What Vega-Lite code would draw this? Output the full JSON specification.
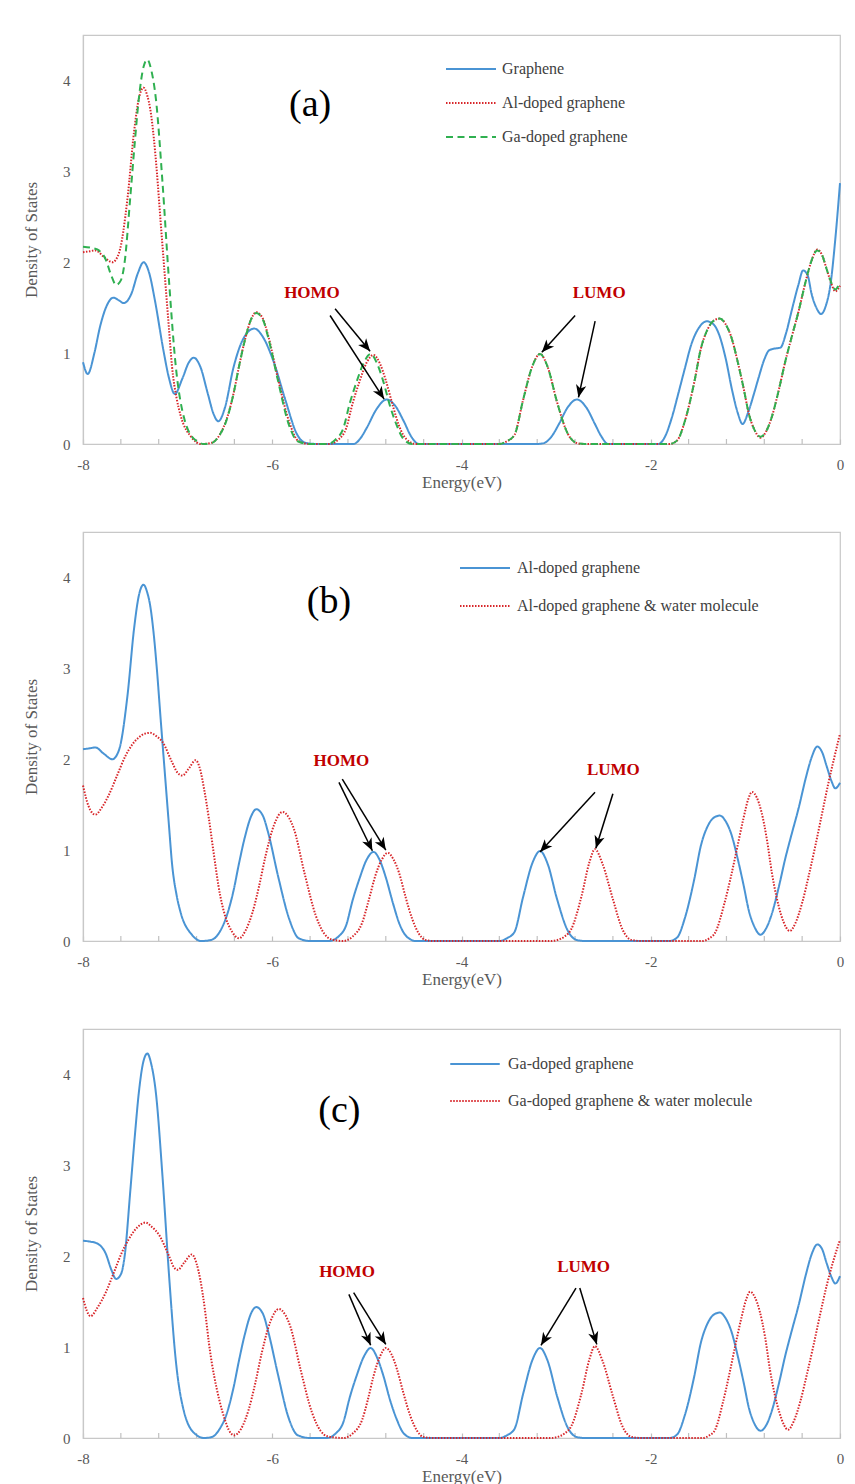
{
  "$schema": "https://vega.github.io/schema/vega-lite/v6.json",
  "background": "white",
  "padding": {"left": 21, "top": 34, "right": 10, "bottom": 5},
  "bounds": "flush",
  "spacing": 88,
  "config": {
    "font": "Liberation Serif",
    "view": {"stroke": "#c8c8c8", "strokeWidth": 1.2},
    "axis": {"domainColor": "#c8c8c8", "domainWidth": 1.2, "tickColor": "#c0c0c0", "tickWidth": 1.2, "labelColor": "#595959", "labelFont": "Liberation Serif", "labelFontSize": 15, "titleFont": "Liberation Serif", "titleFontSize": 17, "titleFontWeight": "normal", "titleColor": "#595959", "grid": false},
    "legend": {"labelFont": "Liberation Serif", "labelFontSize": 16, "labelColor": "#404040", "symbolType": "stroke", "symbolStrokeWidth": 2, "labelLimit": 500}
  },
  "datasets": {
    "minor": [{"energy":-7.6},{"energy":-7.2},{"energy":-6.8},{"energy":-6.4},{"energy":-5.6},{"energy":-5.2},{"energy":-4.8},{"energy":-4.4},{"energy":-3.6},{"energy":-3.2},{"energy":-2.8},{"energy":-2.4},{"energy":-1.6},{"energy":-1.2},{"energy":-0.8},{"energy":-0.4}],
    "dos": [
      {"series":"Graphene","energy":-8,"dos":0.9},{"series":"Graphene","energy":-7.95,"dos":0.77},{"series":"Graphene","energy":-7.88,"dos":1.0},{"series":"Graphene","energy":-7.82,"dos":1.29},{"series":"Graphene","energy":-7.75,"dos":1.52},{"series":"Graphene","energy":-7.68,"dos":1.61},{"series":"Graphene","energy":-7.62,"dos":1.58},{"series":"Graphene","energy":-7.57,"dos":1.55},{"series":"Graphene","energy":-7.49,"dos":1.65},{"series":"Graphene","energy":-7.42,"dos":1.88},{"series":"Graphene","energy":-7.36,"dos":2.0},{"series":"Graphene","energy":-7.3,"dos":1.88},{"series":"Graphene","energy":-7.24,"dos":1.58},{"series":"Graphene","energy":-7.15,"dos":1.03},{"series":"Graphene","energy":-7.09,"dos":0.72},{"series":"Graphene","energy":-7.03,"dos":0.55},{"series":"Graphene","energy":-6.95,"dos":0.72},{"series":"Graphene","energy":-6.88,"dos":0.9},{"series":"Graphene","energy":-6.83,"dos":0.95},{"series":"Graphene","energy":-6.76,"dos":0.85},{"series":"Graphene","energy":-6.68,"dos":0.55},{"series":"Graphene","energy":-6.62,"dos":0.33},{"series":"Graphene","energy":-6.57,"dos":0.25},{"series":"Graphene","energy":-6.5,"dos":0.4},{"series":"Graphene","energy":-6.41,"dos":0.84},{"series":"Graphene","energy":-6.3,"dos":1.17},{"series":"Graphene","energy":-6.19,"dos":1.27},{"series":"Graphene","energy":-6.1,"dos":1.18},{"series":"Graphene","energy":-5.99,"dos":0.92},{"series":"Graphene","energy":-5.86,"dos":0.48},{"series":"Graphene","energy":-5.74,"dos":0.11},{"series":"Graphene","energy":-5.64,"dos":0.01},{"series":"Graphene","energy":-5.5,"dos":0},{"series":"Graphene","energy":-5.14,"dos":0},{"series":"Graphene","energy":-5.07,"dos":0.06},{"series":"Graphene","energy":-5.0,"dos":0.18},{"series":"Graphene","energy":-4.9,"dos":0.38},{"series":"Graphene","energy":-4.79,"dos":0.49},{"series":"Graphene","energy":-4.7,"dos":0.42},{"series":"Graphene","energy":-4.61,"dos":0.25},{"series":"Graphene","energy":-4.53,"dos":0.08},{"series":"Graphene","energy":-4.45,"dos":0},{"series":"Graphene","energy":-3.2,"dos":0},{"series":"Graphene","energy":-3.13,"dos":0.01},{"series":"Graphene","energy":-3.05,"dos":0.08},{"series":"Graphene","energy":-2.97,"dos":0.22},{"series":"Graphene","energy":-2.88,"dos":0.4},{"series":"Graphene","energy":-2.78,"dos":0.49},{"series":"Graphene","energy":-2.68,"dos":0.4},{"series":"Graphene","energy":-2.59,"dos":0.22},{"series":"Graphene","energy":-2.52,"dos":0.08},{"series":"Graphene","energy":-2.45,"dos":0},{"series":"Graphene","energy":-1.92,"dos":0},{"series":"Graphene","energy":-1.85,"dos":0.08},{"series":"Graphene","energy":-1.78,"dos":0.28},{"series":"Graphene","energy":-1.71,"dos":0.55},{"series":"Graphene","energy":-1.64,"dos":0.83},{"series":"Graphene","energy":-1.57,"dos":1.1},{"series":"Graphene","energy":-1.49,"dos":1.28},{"series":"Graphene","energy":-1.41,"dos":1.35},{"series":"Graphene","energy":-1.34,"dos":1.32},{"series":"Graphene","energy":-1.28,"dos":1.21},{"series":"Graphene","energy":-1.21,"dos":0.95},{"series":"Graphene","energy":-1.14,"dos":0.59},{"series":"Graphene","energy":-1.08,"dos":0.34},{"series":"Graphene","energy":-1.03,"dos":0.22},{"series":"Graphene","energy":-0.97,"dos":0.35},{"series":"Graphene","energy":-0.91,"dos":0.55},{"series":"Graphene","energy":-0.86,"dos":0.73},{"series":"Graphene","energy":-0.8,"dos":0.93},{"series":"Graphene","energy":-0.75,"dos":1.03},{"series":"Graphene","energy":-0.69,"dos":1.05},{"series":"Graphene","energy":-0.63,"dos":1.06},{"series":"Graphene","energy":-0.57,"dos":1.22},{"series":"Graphene","energy":-0.51,"dos":1.47},{"series":"Graphene","energy":-0.44,"dos":1.75},{"series":"Graphene","energy":-0.39,"dos":1.91},{"series":"Graphene","energy":-0.34,"dos":1.85},{"series":"Graphene","energy":-0.3,"dos":1.65},{"series":"Graphene","energy":-0.25,"dos":1.5},{"series":"Graphene","energy":-0.2,"dos":1.43},{"series":"Graphene","energy":-0.15,"dos":1.52},{"series":"Graphene","energy":-0.1,"dos":1.76},{"series":"Graphene","energy":-0.05,"dos":2.25},{"series":"Graphene","energy":0,"dos":2.87},

      {"series":"Al-doped graphene","energy":-8,"dos":2.11},{"series":"Al-doped graphene","energy":-7.93,"dos":2.12},{"series":"Al-doped graphene","energy":-7.87,"dos":2.13},{"series":"Al-doped graphene","energy":-7.78,"dos":2.06},{"series":"Al-doped graphene","energy":-7.69,"dos":2.0},{"series":"Al-doped graphene","energy":-7.62,"dos":2.1},{"series":"Al-doped graphene","energy":-7.53,"dos":2.7},{"series":"Al-doped graphene","energy":-7.46,"dos":3.44},{"series":"Al-doped graphene","energy":-7.41,"dos":3.8},{"series":"Al-doped graphene","energy":-7.36,"dos":3.92},{"series":"Al-doped graphene","energy":-7.32,"dos":3.83},{"series":"Al-doped graphene","energy":-7.29,"dos":3.69},{"series":"Al-doped graphene","energy":-7.25,"dos":3.35},{"series":"Al-doped graphene","energy":-7.22,"dos":3.0},{"series":"Al-doped graphene","energy":-7.18,"dos":2.45},{"series":"Al-doped graphene","energy":-7.13,"dos":1.78},{"series":"Al-doped graphene","energy":-7.09,"dos":1.25},{"series":"Al-doped graphene","energy":-7.06,"dos":0.86},{"series":"Al-doped graphene","energy":-7.01,"dos":0.5},{"series":"Al-doped graphene","energy":-6.97,"dos":0.32},{"series":"Al-doped graphene","energy":-6.85,"dos":0.07},{"series":"Al-doped graphene","energy":-6.75,"dos":0},{"series":"Al-doped graphene","energy":-6.65,"dos":0.01},{"series":"Al-doped graphene","energy":-6.55,"dos":0.11},{"series":"Al-doped graphene","energy":-6.49,"dos":0.25},{"series":"Al-doped graphene","energy":-6.41,"dos":0.55},{"series":"Al-doped graphene","energy":-6.35,"dos":0.86},{"series":"Al-doped graphene","energy":-6.29,"dos":1.14},{"series":"Al-doped graphene","energy":-6.22,"dos":1.38},{"series":"Al-doped graphene","energy":-6.17,"dos":1.45},{"series":"Al-doped graphene","energy":-6.1,"dos":1.38},{"series":"Al-doped graphene","energy":-6.04,"dos":1.18},{"series":"Al-doped graphene","energy":-5.94,"dos":0.72},{"series":"Al-doped graphene","energy":-5.82,"dos":0.24},{"series":"Al-doped graphene","energy":-5.72,"dos":0.03},{"series":"Al-doped graphene","energy":-5.6,"dos":0},{"series":"Al-doped graphene","energy":-5.4,"dos":0},{"series":"Al-doped graphene","energy":-5.3,"dos":0.05},{"series":"Al-doped graphene","energy":-5.22,"dos":0.17},{"series":"Al-doped graphene","energy":-5.15,"dos":0.45},{"series":"Al-doped graphene","energy":-5.08,"dos":0.68},{"series":"Al-doped graphene","energy":-5.0,"dos":0.9},{"series":"Al-doped graphene","energy":-4.93,"dos":0.98},{"series":"Al-doped graphene","energy":-4.86,"dos":0.88},{"series":"Al-doped graphene","energy":-4.8,"dos":0.7},{"series":"Al-doped graphene","energy":-4.72,"dos":0.4},{"series":"Al-doped graphene","energy":-4.66,"dos":0.2},{"series":"Al-doped graphene","energy":-4.58,"dos":0.05},{"series":"Al-doped graphene","energy":-4.48,"dos":0},{"series":"Al-doped graphene","energy":-3.6,"dos":0},{"series":"Al-doped graphene","energy":-3.52,"dos":0.03},{"series":"Al-doped graphene","energy":-3.44,"dos":0.1},{"series":"Al-doped graphene","energy":-3.35,"dos":0.48},{"series":"Al-doped graphene","energy":-3.25,"dos":0.86},{"series":"Al-doped graphene","energy":-3.17,"dos":0.99},{"series":"Al-doped graphene","energy":-3.09,"dos":0.85},{"series":"Al-doped graphene","energy":-2.99,"dos":0.46},{"series":"Al-doped graphene","energy":-2.88,"dos":0.12},{"series":"Al-doped graphene","energy":-2.78,"dos":0.01},{"series":"Al-doped graphene","energy":-2.7,"dos":0},{"series":"Al-doped graphene","energy":-1.8,"dos":0},{"series":"Al-doped graphene","energy":-1.72,"dos":0.04},{"series":"Al-doped graphene","energy":-1.64,"dos":0.25},{"series":"Al-doped graphene","energy":-1.54,"dos":0.68},{"series":"Al-doped graphene","energy":-1.47,"dos":1.05},{"series":"Al-doped graphene","energy":-1.4,"dos":1.26},{"series":"Al-doped graphene","energy":-1.33,"dos":1.36},{"series":"Al-doped graphene","energy":-1.27,"dos":1.38},{"series":"Al-doped graphene","energy":-1.21,"dos":1.32},{"series":"Al-doped graphene","energy":-1.15,"dos":1.18},{"series":"Al-doped graphene","energy":-1.08,"dos":0.9},{"series":"Al-doped graphene","energy":-1.02,"dos":0.62},{"series":"Al-doped graphene","energy":-0.96,"dos":0.32},{"series":"Al-doped graphene","energy":-0.91,"dos":0.17},{"series":"Al-doped graphene","energy":-0.84,"dos":0.07},{"series":"Al-doped graphene","energy":-0.78,"dos":0.14},{"series":"Al-doped graphene","energy":-0.72,"dos":0.3},{"series":"Al-doped graphene","energy":-0.65,"dos":0.58},{"series":"Al-doped graphene","energy":-0.58,"dos":0.9},{"series":"Al-doped graphene","energy":-0.51,"dos":1.18},{"series":"Al-doped graphene","energy":-0.44,"dos":1.45},{"series":"Al-doped graphene","energy":-0.36,"dos":1.8},{"series":"Al-doped graphene","energy":-0.3,"dos":2.02},{"series":"Al-doped graphene","energy":-0.24,"dos":2.14},{"series":"Al-doped graphene","energy":-0.19,"dos":2.08},{"series":"Al-doped graphene","energy":-0.14,"dos":1.92},{"series":"Al-doped graphene","energy":-0.09,"dos":1.76},{"series":"Al-doped graphene","energy":-0.05,"dos":1.68},{"series":"Al-doped graphene","energy":0,"dos":1.74},

      {"series":"Ga-doped graphene","energy":-8,"dos":2.17},{"series":"Ga-doped graphene","energy":-7.92,"dos":2.16},{"series":"Ga-doped graphene","energy":-7.85,"dos":2.14},{"series":"Ga-doped graphene","energy":-7.76,"dos":2.03},{"series":"Ga-doped graphene","energy":-7.7,"dos":1.85},{"series":"Ga-doped graphene","energy":-7.65,"dos":1.75},{"series":"Ga-doped graphene","energy":-7.6,"dos":1.8},{"series":"Ga-doped graphene","energy":-7.56,"dos":2.0},{"series":"Ga-doped graphene","energy":-7.5,"dos":2.72},{"series":"Ga-doped graphene","energy":-7.45,"dos":3.35},{"series":"Ga-doped graphene","energy":-7.41,"dos":3.8},{"series":"Ga-doped graphene","energy":-7.36,"dos":4.15},{"series":"Ga-doped graphene","energy":-7.32,"dos":4.23},{"series":"Ga-doped graphene","energy":-7.28,"dos":4.12},{"series":"Ga-doped graphene","energy":-7.23,"dos":3.8},{"series":"Ga-doped graphene","energy":-7.16,"dos":2.88},{"series":"Ga-doped graphene","energy":-7.09,"dos":1.78},{"series":"Ga-doped graphene","energy":-7.02,"dos":0.86},{"series":"Ga-doped graphene","energy":-6.93,"dos":0.28},{"series":"Ga-doped graphene","energy":-6.81,"dos":0.04},{"series":"Ga-doped graphene","energy":-6.72,"dos":0},{"series":"Ga-doped graphene","energy":-6.64,"dos":0.01},{"series":"Ga-doped graphene","energy":-6.55,"dos":0.11},{"series":"Ga-doped graphene","energy":-6.49,"dos":0.24},{"series":"Ga-doped graphene","energy":-6.41,"dos":0.55},{"series":"Ga-doped graphene","energy":-6.35,"dos":0.86},{"series":"Ga-doped graphene","energy":-6.29,"dos":1.14},{"series":"Ga-doped graphene","energy":-6.22,"dos":1.38},{"series":"Ga-doped graphene","energy":-6.17,"dos":1.44},{"series":"Ga-doped graphene","energy":-6.1,"dos":1.37},{"series":"Ga-doped graphene","energy":-6.04,"dos":1.16},{"series":"Ga-doped graphene","energy":-5.94,"dos":0.7},{"series":"Ga-doped graphene","energy":-5.83,"dos":0.23},{"series":"Ga-doped graphene","energy":-5.73,"dos":0.03},{"series":"Ga-doped graphene","energy":-5.6,"dos":0},{"series":"Ga-doped graphene","energy":-5.42,"dos":0},{"series":"Ga-doped graphene","energy":-5.33,"dos":0.05},{"series":"Ga-doped graphene","energy":-5.25,"dos":0.17},{"series":"Ga-doped graphene","energy":-5.18,"dos":0.45},{"series":"Ga-doped graphene","energy":-5.11,"dos":0.68},{"series":"Ga-doped graphene","energy":-5.03,"dos":0.9},{"series":"Ga-doped graphene","energy":-4.96,"dos":0.99},{"series":"Ga-doped graphene","energy":-4.89,"dos":0.88},{"series":"Ga-doped graphene","energy":-4.83,"dos":0.7},{"series":"Ga-doped graphene","energy":-4.75,"dos":0.4},{"series":"Ga-doped graphene","energy":-4.69,"dos":0.22},{"series":"Ga-doped graphene","energy":-4.61,"dos":0.05},{"series":"Ga-doped graphene","energy":-4.52,"dos":0},{"series":"Ga-doped graphene","energy":-3.6,"dos":0},{"series":"Ga-doped graphene","energy":-3.52,"dos":0.03},{"series":"Ga-doped graphene","energy":-3.44,"dos":0.1},{"series":"Ga-doped graphene","energy":-3.35,"dos":0.48},{"series":"Ga-doped graphene","energy":-3.25,"dos":0.86},{"series":"Ga-doped graphene","energy":-3.17,"dos":0.99},{"series":"Ga-doped graphene","energy":-3.09,"dos":0.85},{"series":"Ga-doped graphene","energy":-2.99,"dos":0.46},{"series":"Ga-doped graphene","energy":-2.88,"dos":0.12},{"series":"Ga-doped graphene","energy":-2.78,"dos":0.01},{"series":"Ga-doped graphene","energy":-2.7,"dos":0},{"series":"Ga-doped graphene","energy":-1.8,"dos":0},{"series":"Ga-doped graphene","energy":-1.72,"dos":0.04},{"series":"Ga-doped graphene","energy":-1.64,"dos":0.25},{"series":"Ga-doped graphene","energy":-1.54,"dos":0.68},{"series":"Ga-doped graphene","energy":-1.47,"dos":1.05},{"series":"Ga-doped graphene","energy":-1.4,"dos":1.26},{"series":"Ga-doped graphene","energy":-1.33,"dos":1.36},{"series":"Ga-doped graphene","energy":-1.27,"dos":1.38},{"series":"Ga-doped graphene","energy":-1.21,"dos":1.32},{"series":"Ga-doped graphene","energy":-1.15,"dos":1.18},{"series":"Ga-doped graphene","energy":-1.08,"dos":0.9},{"series":"Ga-doped graphene","energy":-1.02,"dos":0.62},{"series":"Ga-doped graphene","energy":-0.96,"dos":0.32},{"series":"Ga-doped graphene","energy":-0.91,"dos":0.17},{"series":"Ga-doped graphene","energy":-0.84,"dos":0.08},{"series":"Ga-doped graphene","energy":-0.78,"dos":0.14},{"series":"Ga-doped graphene","energy":-0.72,"dos":0.3},{"series":"Ga-doped graphene","energy":-0.65,"dos":0.58},{"series":"Ga-doped graphene","energy":-0.58,"dos":0.9},{"series":"Ga-doped graphene","energy":-0.51,"dos":1.18},{"series":"Ga-doped graphene","energy":-0.44,"dos":1.45},{"series":"Ga-doped graphene","energy":-0.36,"dos":1.8},{"series":"Ga-doped graphene","energy":-0.3,"dos":2.02},{"series":"Ga-doped graphene","energy":-0.24,"dos":2.13},{"series":"Ga-doped graphene","energy":-0.19,"dos":2.08},{"series":"Ga-doped graphene","energy":-0.14,"dos":1.92},{"series":"Ga-doped graphene","energy":-0.09,"dos":1.77},{"series":"Ga-doped graphene","energy":-0.05,"dos":1.7},{"series":"Ga-doped graphene","energy":0,"dos":1.78},

      {"series":"Al-doped graphene & water molecule","energy":-8,"dos":1.71},{"series":"Al-doped graphene & water molecule","energy":-7.94,"dos":1.48},{"series":"Al-doped graphene & water molecule","energy":-7.87,"dos":1.39},{"series":"Al-doped graphene & water molecule","energy":-7.8,"dos":1.47},{"series":"Al-doped graphene & water molecule","energy":-7.73,"dos":1.6},{"series":"Al-doped graphene & water molecule","energy":-7.64,"dos":1.82},{"series":"Al-doped graphene & water molecule","energy":-7.55,"dos":2.04},{"series":"Al-doped graphene & water molecule","energy":-7.48,"dos":2.16},{"series":"Al-doped graphene & water molecule","energy":-7.41,"dos":2.24},{"series":"Al-doped graphene & water molecule","energy":-7.35,"dos":2.28},{"series":"Al-doped graphene & water molecule","energy":-7.29,"dos":2.29},{"series":"Al-doped graphene & water molecule","energy":-7.22,"dos":2.25},{"series":"Al-doped graphene & water molecule","energy":-7.16,"dos":2.19},{"series":"Al-doped graphene & water molecule","energy":-7.06,"dos":1.97},{"series":"Al-doped graphene & water molecule","energy":-7.0,"dos":1.85},{"series":"Al-doped graphene & water molecule","energy":-6.95,"dos":1.82},{"series":"Al-doped graphene & water molecule","energy":-6.88,"dos":1.9},{"series":"Al-doped graphene & water molecule","energy":-6.81,"dos":1.99},{"series":"Al-doped graphene & water molecule","energy":-6.76,"dos":1.88},{"series":"Al-doped graphene & water molecule","energy":-6.72,"dos":1.67},{"series":"Al-doped graphene & water molecule","energy":-6.67,"dos":1.35},{"series":"Al-doped graphene & water molecule","energy":-6.63,"dos":1.05},{"series":"Al-doped graphene & water molecule","energy":-6.55,"dos":0.5},{"series":"Al-doped graphene & water molecule","energy":-6.49,"dos":0.25},{"series":"Al-doped graphene & water molecule","energy":-6.44,"dos":0.13},{"series":"Al-doped graphene & water molecule","energy":-6.35,"dos":0.03},{"series":"Al-doped graphene & water molecule","energy":-6.28,"dos":0.12},{"series":"Al-doped graphene & water molecule","energy":-6.21,"dos":0.31},{"series":"Al-doped graphene & water molecule","energy":-6.14,"dos":0.6},{"series":"Al-doped graphene & water molecule","energy":-6.07,"dos":0.94},{"series":"Al-doped graphene & water molecule","energy":-5.98,"dos":1.28},{"series":"Al-doped graphene & water molecule","energy":-5.89,"dos":1.42},{"series":"Al-doped graphene & water molecule","energy":-5.82,"dos":1.35},{"series":"Al-doped graphene & water molecule","energy":-5.77,"dos":1.23},{"series":"Al-doped graphene & water molecule","energy":-5.66,"dos":0.75},{"series":"Al-doped graphene & water molecule","energy":-5.54,"dos":0.28},{"series":"Al-doped graphene & water molecule","energy":-5.45,"dos":0.08},{"series":"Al-doped graphene & water molecule","energy":-5.38,"dos":0.02},{"series":"Al-doped graphene & water molecule","energy":-5.25,"dos":0},{"series":"Al-doped graphene & water molecule","energy":-5.15,"dos":0.05},{"series":"Al-doped graphene & water molecule","energy":-5.05,"dos":0.2},{"series":"Al-doped graphene & water molecule","energy":-4.98,"dos":0.45},{"series":"Al-doped graphene & water molecule","energy":-4.91,"dos":0.72},{"series":"Al-doped graphene & water molecule","energy":-4.84,"dos":0.9},{"series":"Al-doped graphene & water molecule","energy":-4.78,"dos":0.97},{"series":"Al-doped graphene & water molecule","energy":-4.72,"dos":0.9},{"series":"Al-doped graphene & water molecule","energy":-4.66,"dos":0.75},{"series":"Al-doped graphene & water molecule","energy":-4.59,"dos":0.48},{"series":"Al-doped graphene & water molecule","energy":-4.52,"dos":0.24},{"series":"Al-doped graphene & water molecule","energy":-4.45,"dos":0.08},{"series":"Al-doped graphene & water molecule","energy":-4.38,"dos":0.01},{"series":"Al-doped graphene & water molecule","energy":-4.3,"dos":0},{"series":"Al-doped graphene & water molecule","energy":-3.05,"dos":0},{"series":"Al-doped graphene & water molecule","energy":-2.99,"dos":0.01},{"series":"Al-doped graphene & water molecule","energy":-2.91,"dos":0.05},{"series":"Al-doped graphene & water molecule","energy":-2.84,"dos":0.13},{"series":"Al-doped graphene & water molecule","energy":-2.73,"dos":0.5},{"series":"Al-doped graphene & water molecule","energy":-2.65,"dos":0.86},{"series":"Al-doped graphene & water molecule","energy":-2.59,"dos":1.01},{"series":"Al-doped graphene & water molecule","energy":-2.51,"dos":0.85},{"series":"Al-doped graphene & water molecule","energy":-2.4,"dos":0.46},{"series":"Al-doped graphene & water molecule","energy":-2.3,"dos":0.13},{"series":"Al-doped graphene & water molecule","energy":-2.2,"dos":0.01},{"series":"Al-doped graphene & water molecule","energy":-2.1,"dos":0},{"series":"Al-doped graphene & water molecule","energy":-1.45,"dos":0},{"series":"Al-doped graphene & water molecule","energy":-1.38,"dos":0.03},{"series":"Al-doped graphene & water molecule","energy":-1.32,"dos":0.09},{"series":"Al-doped graphene & water molecule","energy":-1.22,"dos":0.42},{"series":"Al-doped graphene & water molecule","energy":-1.15,"dos":0.72},{"series":"Al-doped graphene & water molecule","energy":-1.09,"dos":1.01},{"series":"Al-doped graphene & water molecule","energy":-1.02,"dos":1.35},{"series":"Al-doped graphene & water molecule","energy":-0.97,"dos":1.56},{"series":"Al-doped graphene & water molecule","energy":-0.93,"dos":1.64},{"series":"Al-doped graphene & water molecule","energy":-0.88,"dos":1.58},{"series":"Al-doped graphene & water molecule","energy":-0.83,"dos":1.42},{"series":"Al-doped graphene & water molecule","energy":-0.77,"dos":1.1},{"series":"Al-doped graphene & water molecule","energy":-0.72,"dos":0.75},{"series":"Al-doped graphene & water molecule","energy":-0.67,"dos":0.48},{"series":"Al-doped graphene & water molecule","energy":-0.62,"dos":0.28},{"series":"Al-doped graphene & water molecule","energy":-0.57,"dos":0.15},{"series":"Al-doped graphene & water molecule","energy":-0.53,"dos":0.11},{"series":"Al-doped graphene & water molecule","energy":-0.47,"dos":0.2},{"series":"Al-doped graphene & water molecule","energy":-0.4,"dos":0.42},{"series":"Al-doped graphene & water molecule","energy":-0.33,"dos":0.72},{"series":"Al-doped graphene & water molecule","energy":-0.26,"dos":1.05},{"series":"Al-doped graphene & water molecule","energy":-0.19,"dos":1.4},{"series":"Al-doped graphene & water molecule","energy":-0.12,"dos":1.75},{"series":"Al-doped graphene & water molecule","energy":-0.06,"dos":2.02},{"series":"Al-doped graphene & water molecule","energy":0,"dos":2.28},

      {"series":"Ga-doped graphene & water molecule","energy":-8,"dos":1.54},{"series":"Ga-doped graphene & water molecule","energy":-7.96,"dos":1.4},{"series":"Ga-doped graphene & water molecule","energy":-7.92,"dos":1.34},{"series":"Ga-doped graphene & water molecule","energy":-7.85,"dos":1.43},{"series":"Ga-doped graphene & water molecule","energy":-7.76,"dos":1.6},{"series":"Ga-doped graphene & water molecule","energy":-7.67,"dos":1.83},{"series":"Ga-doped graphene & water molecule","energy":-7.59,"dos":2.04},{"series":"Ga-doped graphene & water molecule","energy":-7.52,"dos":2.18},{"series":"Ga-doped graphene & water molecule","energy":-7.45,"dos":2.29},{"series":"Ga-doped graphene & water molecule","energy":-7.39,"dos":2.35},{"series":"Ga-doped graphene & water molecule","energy":-7.34,"dos":2.37},{"series":"Ga-doped graphene & water molecule","energy":-7.27,"dos":2.32},{"series":"Ga-doped graphene & water molecule","energy":-7.2,"dos":2.24},{"series":"Ga-doped graphene & water molecule","energy":-7.09,"dos":2.0},{"series":"Ga-doped graphene & water molecule","energy":-7.04,"dos":1.88},{"series":"Ga-doped graphene & water molecule","energy":-7.0,"dos":1.85},{"series":"Ga-doped graphene & water molecule","energy":-6.93,"dos":1.93},{"series":"Ga-doped graphene & water molecule","energy":-6.85,"dos":2.02},{"series":"Ga-doped graphene & water molecule","energy":-6.8,"dos":1.92},{"series":"Ga-doped graphene & water molecule","energy":-6.76,"dos":1.74},{"series":"Ga-doped graphene & water molecule","energy":-6.71,"dos":1.4},{"series":"Ga-doped graphene & water molecule","energy":-6.67,"dos":1.05},{"series":"Ga-doped graphene & water molecule","energy":-6.56,"dos":0.42},{"series":"Ga-doped graphene & water molecule","energy":-6.5,"dos":0.2},{"series":"Ga-doped graphene & water molecule","energy":-6.46,"dos":0.09},{"series":"Ga-doped graphene & water molecule","energy":-6.4,"dos":0.03},{"series":"Ga-doped graphene & water molecule","energy":-6.33,"dos":0.1},{"series":"Ga-doped graphene & water molecule","energy":-6.25,"dos":0.31},{"series":"Ga-doped graphene & water molecule","energy":-6.18,"dos":0.6},{"series":"Ga-doped graphene & water molecule","energy":-6.11,"dos":0.94},{"series":"Ga-doped graphene & water molecule","energy":-6.02,"dos":1.28},{"series":"Ga-doped graphene & water molecule","energy":-5.93,"dos":1.42},{"series":"Ga-doped graphene & water molecule","energy":-5.86,"dos":1.35},{"series":"Ga-doped graphene & water molecule","energy":-5.81,"dos":1.23},{"series":"Ga-doped graphene & water molecule","energy":-5.7,"dos":0.75},{"series":"Ga-doped graphene & water molecule","energy":-5.58,"dos":0.28},{"series":"Ga-doped graphene & water molecule","energy":-5.49,"dos":0.08},{"series":"Ga-doped graphene & water molecule","energy":-5.42,"dos":0.02},{"series":"Ga-doped graphene & water molecule","energy":-5.25,"dos":0},{"series":"Ga-doped graphene & water molecule","energy":-5.15,"dos":0.05},{"series":"Ga-doped graphene & water molecule","energy":-5.05,"dos":0.2},{"series":"Ga-doped graphene & water molecule","energy":-4.99,"dos":0.42},{"series":"Ga-doped graphene & water molecule","energy":-4.93,"dos":0.68},{"series":"Ga-doped graphene & water molecule","energy":-4.86,"dos":0.9},{"series":"Ga-doped graphene & water molecule","energy":-4.8,"dos":0.99},{"series":"Ga-doped graphene & water molecule","energy":-4.74,"dos":0.92},{"series":"Ga-doped graphene & water molecule","energy":-4.68,"dos":0.75},{"series":"Ga-doped graphene & water molecule","energy":-4.61,"dos":0.48},{"series":"Ga-doped graphene & water molecule","energy":-4.54,"dos":0.24},{"series":"Ga-doped graphene & water molecule","energy":-4.47,"dos":0.08},{"series":"Ga-doped graphene & water molecule","energy":-4.4,"dos":0.01},{"series":"Ga-doped graphene & water molecule","energy":-4.3,"dos":0},{"series":"Ga-doped graphene & water molecule","energy":-3.05,"dos":0},{"series":"Ga-doped graphene & water molecule","energy":-2.99,"dos":0.01},{"series":"Ga-doped graphene & water molecule","energy":-2.91,"dos":0.05},{"series":"Ga-doped graphene & water molecule","energy":-2.84,"dos":0.13},{"series":"Ga-doped graphene & water molecule","energy":-2.73,"dos":0.5},{"series":"Ga-doped graphene & water molecule","energy":-2.65,"dos":0.86},{"series":"Ga-doped graphene & water molecule","energy":-2.59,"dos":1.01},{"series":"Ga-doped graphene & water molecule","energy":-2.51,"dos":0.85},{"series":"Ga-doped graphene & water molecule","energy":-2.4,"dos":0.46},{"series":"Ga-doped graphene & water molecule","energy":-2.3,"dos":0.13},{"series":"Ga-doped graphene & water molecule","energy":-2.2,"dos":0.01},{"series":"Ga-doped graphene & water molecule","energy":-2.1,"dos":0},{"series":"Ga-doped graphene & water molecule","energy":-1.45,"dos":0},{"series":"Ga-doped graphene & water molecule","energy":-1.38,"dos":0.03},{"series":"Ga-doped graphene & water molecule","energy":-1.32,"dos":0.09},{"series":"Ga-doped graphene & water molecule","energy":-1.24,"dos":0.38},{"series":"Ga-doped graphene & water molecule","energy":-1.17,"dos":0.7},{"series":"Ga-doped graphene & water molecule","energy":-1.11,"dos":1.0},{"series":"Ga-doped graphene & water molecule","energy":-1.04,"dos":1.33},{"series":"Ga-doped graphene & water molecule","energy":-0.99,"dos":1.53},{"series":"Ga-doped graphene & water molecule","energy":-0.95,"dos":1.61},{"series":"Ga-doped graphene & water molecule","energy":-0.9,"dos":1.55},{"series":"Ga-doped graphene & water molecule","energy":-0.85,"dos":1.4},{"series":"Ga-doped graphene & water molecule","energy":-0.79,"dos":1.1},{"series":"Ga-doped graphene & water molecule","energy":-0.74,"dos":0.75},{"series":"Ga-doped graphene & water molecule","energy":-0.69,"dos":0.48},{"series":"Ga-doped graphene & water molecule","energy":-0.64,"dos":0.28},{"series":"Ga-doped graphene & water molecule","energy":-0.59,"dos":0.14},{"series":"Ga-doped graphene & water molecule","energy":-0.55,"dos":0.09},{"series":"Ga-doped graphene & water molecule","energy":-0.49,"dos":0.18},{"series":"Ga-doped graphene & water molecule","energy":-0.42,"dos":0.4},{"series":"Ga-doped graphene & water molecule","energy":-0.35,"dos":0.7},{"series":"Ga-doped graphene & water molecule","energy":-0.28,"dos":1.02},{"series":"Ga-doped graphene & water molecule","energy":-0.21,"dos":1.36},{"series":"Ga-doped graphene & water molecule","energy":-0.14,"dos":1.68},{"series":"Ga-doped graphene & water molecule","energy":-0.07,"dos":1.95},{"series":"Ga-doped graphene & water molecule","energy":0,"dos":2.18}
    ]
  },
  "resolve": {"scale": {"color": "independent", "strokeDash": "independent"}, "legend": {"color": "independent", "strokeDash": "independent"}},
  "vconcat": [
    {
      "width": 757, "height": 409,
      "layer": [
        {
          "data": {"name": "minor"},
          "mark": {"type": "rule", "color": "#c0c0c0", "strokeWidth": 1.2},
          "encoding": {"x": {"field": "energy", "type": "quantitative"}, "y": {"datum": 0}, "y2": {"datum": 0.055}}
        },
        {
          "data": {"name": "dos"},
          "transform": [{"filter": {"field": "series", "oneOf": ["Graphene", "Al-doped graphene", "Ga-doped graphene"]}}],
          "mark": {"type": "line", "interpolate": "monotone", "strokeWidth": 2},
          "encoding": {
            "x": {"field": "energy", "type": "quantitative", "scale": {"domain": [-8, 0], "nice": false}, "axis": {"title": "Energy(eV)", "values": [-8,-6,-4,-2,0], "labelExpr": "toString(datum.value)", "labelOverlap": false, "tickSize": -5, "labelPadding": 18, "titlePadding": 2, "labelFlush": false}},
            "y": {"field": "dos", "type": "quantitative", "scale": {"domain": [0, 4.5], "nice": false}, "axis": {"title": "Density of States", "values": [0,1,2,3,4], "format": "d", "ticks": false, "labelPadding": 13, "titlePadding": 22}},
            "color": {"field": "series", "type": "nominal", "scale": {"domain": ["Graphene", "Al-doped graphene", "Ga-doped graphene"], "range": ["#4a94d4", "#d8262a", "#2fb050"]}, "legend": {"orient": "none", "legendX": 362, "legendY": 8, "title": null, "symbolSize": 2500, "rowPadding": 0, "labelOffset": 5}},
            "strokeDash": {"field": "series", "type": "nominal", "scale": {"domain": ["Graphene", "Al-doped graphene", "Ga-doped graphene"], "range": [[1, 0], [1.5, 1.5], [7, 4.5]]}, "legend": {"orient": "none", "legendX": 362, "legendY": 8, "title": null, "symbolSize": 2500, "rowPadding": 0, "labelOffset": 5}}
          }
        },
        {
          "data": {"values": [{"xs":-5.336,"ys":1.488,"xe":-4.966,"ye":1.02},{"xs":-5.389,"ys":1.414,"xe":-4.818,"ye":0.494},{"xs":-2.799,"ys":1.414,"xe":-3.151,"ye":1.009},{"xs":-2.588,"ys":1.352,"xe":-2.764,"ye":0.512}]},
          "layer": [
            {"mark": {"type": "rule", "color": "black", "strokeWidth": 1.5},
             "encoding": {"x": {"field": "xs", "type": "quantitative"}, "y": {"field": "ys", "type": "quantitative"}, "x2": {"field": "xe"}, "y2": {"field": "ye"}}},
            {"transform": [{"calculate": "atan2((datum.xe - datum.xs) * 94.6, (datum.ye - datum.ys) * 90.9) * 180 / PI", "as": "ang"}],
             "mark": {"type": "point", "shape": "M0,0 L-0.6,1.45 L0,1.05 L0.6,1.45 Z", "filled": true, "color": "black", "opacity": 1, "size": 300},
             "encoding": {"x": {"field": "xe", "type": "quantitative"}, "y": {"field": "ye", "type": "quantitative"}, "angle": {"field": "ang", "type": "quantitative", "scale": null}}}
          ]
        },
        {
          "data": {"values": [{"energy": -5.6, "dos": 3.73, "label": "(a)"}]},
          "mark": {"type": "text", "font": "Liberation Serif", "fontSize": 38, "color": "black", "align": "center", "baseline": "middle"},
          "encoding": {"x": {"field": "energy", "type": "quantitative"}, "y": {"field": "dos", "type": "quantitative"}, "text": {"field": "label"}}
        },
        {
          "data": {"values": [{"energy": -5.58, "dos": 1.66, "label": "HOMO"}, {"energy": -2.545, "dos": 1.66, "label": "LUMO"}]},
          "mark": {"type": "text", "font": "Liberation Serif", "fontSize": 17, "fontWeight": "bold", "color": "#c00000", "align": "center", "baseline": "middle"},
          "encoding": {"x": {"field": "energy", "type": "quantitative"}, "y": {"field": "dos", "type": "quantitative"}, "text": {"field": "label"}}
        }
      ]
    },
    {
      "width": 757, "height": 409,
      "layer": [
        {
          "data": {"name": "minor"},
          "mark": {"type": "rule", "color": "#c0c0c0", "strokeWidth": 1.2},
          "encoding": {"x": {"field": "energy", "type": "quantitative"}, "y": {"datum": 0}, "y2": {"datum": 0.055}}
        },
        {
          "data": {"name": "dos"},
          "transform": [{"filter": {"field": "series", "oneOf": ["Al-doped graphene", "Al-doped graphene & water molecule"]}}],
          "mark": {"type": "line", "interpolate": "monotone", "strokeWidth": 2},
          "encoding": {
            "x": {"field": "energy", "type": "quantitative", "scale": {"domain": [-8, 0], "nice": false}, "axis": {"title": "Energy(eV)", "values": [-8,-6,-4,-2,0], "labelExpr": "toString(datum.value)", "labelOverlap": false, "tickSize": -5, "labelPadding": 18, "titlePadding": 2, "labelFlush": false}},
            "y": {"field": "dos", "type": "quantitative", "scale": {"domain": [0, 4.5], "nice": false}, "axis": {"title": "Density of States", "values": [0,1,2,3,4], "format": "d", "ticks": false, "labelPadding": 13, "titlePadding": 22}},
            "color": {"field": "series", "type": "nominal", "scale": {"domain": ["Al-doped graphene", "Al-doped graphene & water molecule"], "range": ["#4a94d4", "#d8262a"]}, "legend": {"orient": "none", "legendX": 376, "legendY": 10, "title": null, "symbolSize": 2500, "rowPadding": 4, "labelOffset": 6}},
            "strokeDash": {"field": "series", "type": "nominal", "scale": {"domain": ["Al-doped graphene", "Al-doped graphene & water molecule"], "range": [[1, 0], [1.5, 1.5]]}, "legend": {"orient": "none", "legendX": 376, "legendY": 10, "title": null, "symbolSize": 2500, "rowPadding": 4, "labelOffset": 6}}
          }
        },
        {
          "data": {"values": [{"xs":-5.295,"ys":1.746,"xe":-4.942,"ye":0.993},{"xs":-5.26,"ys":1.78,"xe":-4.8,"ye":1.0},{"xs":-2.589,"ys":1.636,"xe":-3.17,"ye":0.98},{"xs":-2.4,"ys":1.62,"xe":-2.58,"ye":1.02}]},
          "layer": [
            {"mark": {"type": "rule", "color": "black", "strokeWidth": 1.5},
             "encoding": {"x": {"field": "xs", "type": "quantitative"}, "y": {"field": "ys", "type": "quantitative"}, "x2": {"field": "xe"}, "y2": {"field": "ye"}}},
            {"transform": [{"calculate": "atan2((datum.xe - datum.xs) * 94.6, (datum.ye - datum.ys) * 90.9) * 180 / PI", "as": "ang"}],
             "mark": {"type": "point", "shape": "M0,0 L-0.6,1.45 L0,1.05 L0.6,1.45 Z", "filled": true, "color": "black", "opacity": 1, "size": 300},
             "encoding": {"x": {"field": "xe", "type": "quantitative"}, "y": {"field": "ye", "type": "quantitative"}, "angle": {"field": "ang", "type": "quantitative", "scale": null}}}
          ]
        },
        {
          "data": {"values": [{"energy": -5.4, "dos": 3.73, "label": "(b)"}]},
          "mark": {"type": "text", "font": "Liberation Serif", "fontSize": 38, "color": "black", "align": "center", "baseline": "middle"},
          "encoding": {"x": {"field": "energy", "type": "quantitative"}, "y": {"field": "dos", "type": "quantitative"}, "text": {"field": "label"}}
        },
        {
          "data": {"values": [{"energy": -5.27, "dos": 1.98, "label": "HOMO"}, {"energy": -2.395, "dos": 1.886, "label": "LUMO"}]},
          "mark": {"type": "text", "font": "Liberation Serif", "fontSize": 17, "fontWeight": "bold", "color": "#c00000", "align": "center", "baseline": "middle"},
          "encoding": {"x": {"field": "energy", "type": "quantitative"}, "y": {"field": "dos", "type": "quantitative"}, "text": {"field": "label"}}
        }
      ]
    },
    {
      "width": 757, "height": 409,
      "layer": [
        {
          "data": {"name": "minor"},
          "mark": {"type": "rule", "color": "#c0c0c0", "strokeWidth": 1.2},
          "encoding": {"x": {"field": "energy", "type": "quantitative"}, "y": {"datum": 0}, "y2": {"datum": 0.055}}
        },
        {
          "data": {"name": "dos"},
          "transform": [{"filter": {"field": "series", "oneOf": ["Ga-doped graphene", "Ga-doped graphene & water molecule"]}}],
          "mark": {"type": "line", "interpolate": "monotone", "strokeWidth": 2},
          "encoding": {
            "x": {"field": "energy", "type": "quantitative", "scale": {"domain": [-8, 0], "nice": false}, "axis": {"title": "Energy(eV)", "values": [-8,-6,-4,-2,0], "labelExpr": "toString(datum.value)", "labelOverlap": false, "tickSize": -5, "labelPadding": 18, "titlePadding": 2, "labelFlush": false}},
            "y": {"field": "dos", "type": "quantitative", "scale": {"domain": [0, 4.5], "nice": false}, "axis": {"title": "Density of States", "values": [0,1,2,3,4], "format": "d", "ticks": false, "labelPadding": 13, "titlePadding": 22}},
            "color": {"field": "series", "type": "nominal", "scale": {"domain": ["Ga-doped graphene", "Ga-doped graphene & water molecule"], "range": ["#4a94d4", "#d8262a"]}, "legend": {"orient": "none", "legendX": 366, "legendY": 9, "title": null, "symbolSize": 2450, "rowPadding": 3, "labelOffset": 7}},
            "strokeDash": {"field": "series", "type": "nominal", "scale": {"domain": ["Ga-doped graphene", "Ga-doped graphene & water molecule"], "range": [[1, 0], [1.5, 1.5]]}, "legend": {"orient": "none", "legendX": 366, "legendY": 9, "title": null, "symbolSize": 2450, "rowPadding": 3, "labelOffset": 7}}
          }
        },
        {
          "data": {"values": [{"xs":-5.19,"ys":1.58,"xe":-4.96,"ye":1.02},{"xs":-5.14,"ys":1.6,"xe":-4.8,"ye":1.03},{"xs":-2.79,"ys":1.65,"xe":-3.16,"ye":1.02},{"xs":-2.75,"ys":1.65,"xe":-2.57,"ye":1.03}]},
          "layer": [
            {"mark": {"type": "rule", "color": "black", "strokeWidth": 1.5},
             "encoding": {"x": {"field": "xs", "type": "quantitative"}, "y": {"field": "ys", "type": "quantitative"}, "x2": {"field": "xe"}, "y2": {"field": "ye"}}},
            {"transform": [{"calculate": "atan2((datum.xe - datum.xs) * 94.6, (datum.ye - datum.ys) * 90.9) * 180 / PI", "as": "ang"}],
             "mark": {"type": "point", "shape": "M0,0 L-0.6,1.45 L0,1.05 L0.6,1.45 Z", "filled": true, "color": "black", "opacity": 1, "size": 300},
             "encoding": {"x": {"field": "xe", "type": "quantitative"}, "y": {"field": "ye", "type": "quantitative"}, "angle": {"field": "ang", "type": "quantitative", "scale": null}}}
          ]
        },
        {
          "data": {"values": [{"energy": -5.29, "dos": 3.6, "label": "(c)"}]},
          "mark": {"type": "text", "font": "Liberation Serif", "fontSize": 38, "color": "black", "align": "center", "baseline": "middle"},
          "encoding": {"x": {"field": "energy", "type": "quantitative"}, "y": {"field": "dos", "type": "quantitative"}, "text": {"field": "label"}}
        },
        {
          "data": {"values": [{"energy": -5.21, "dos": 1.83, "label": "HOMO"}, {"energy": -2.71, "dos": 1.88, "label": "LUMO"}]},
          "mark": {"type": "text", "font": "Liberation Serif", "fontSize": 17, "fontWeight": "bold", "color": "#c00000", "align": "center", "baseline": "middle"},
          "encoding": {"x": {"field": "energy", "type": "quantitative"}, "y": {"field": "dos", "type": "quantitative"}, "text": {"field": "label"}}
        }
      ]
    }
  ]
}
